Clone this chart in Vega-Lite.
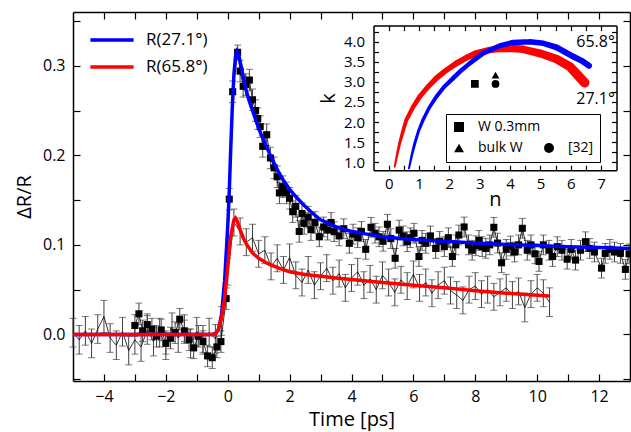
{
"$schema":"https://vega.github.io/schema/vega-lite/v6.json",
"width":557,"height":369,
"autosize":{"type":"none"},
"padding":{"left":73,"top":12,"right":1,"bottom":51},
"background":"white",
"config":{
 "font":"Open Sans",
 "view":{"stroke":null},
 "axis":{"grid":false,"domainColor":"black","domainWidth":1.5,"tickColor":"black","tickWidth":1.2,"labelColor":"black","titleColor":"black","labelFont":"Open Sans","titleFont":"Open Sans","titleFontWeight":"normal"},
 "legend":{"labelFont":"Open Sans","labelColor":"black"}
},
"datasets":{
 "s1":[
  {"t":-3.0,"v":0.010,"e":0.012},{"t":-2.87,"v":0.023,"e":0.012},{"t":-2.75,"v":0.004,"e":0.012},{"t":-2.6,"v":0.011,"e":0.012},{"t":-2.45,"v":0.006,"e":0.012},{"t":-2.3,"v":-0.002,"e":0.012},{"t":-2.15,"v":0.005,"e":0.012},{"t":-2.0,"v":-0.010,"e":0.012},{"t":-1.85,"v":-0.004,"e":0.012},{"t":-1.7,"v":0.002,"e":0.012},{"t":-1.55,"v":0.017,"e":0.012},{"t":-1.4,"v":0.004,"e":0.012},{"t":-1.25,"v":-0.006,"e":0.012},{"t":-1.1,"v":-0.015,"e":0.012},{"t":-0.95,"v":-0.002,"e":0.012},{"t":-0.8,"v":-0.008,"e":0.012},{"t":-0.65,"v":-0.024,"e":0.012},{"t":-0.5,"v":-0.026,"e":0.012},{"t":-0.35,"v":-0.014,"e":0.012},{"t":-0.22,"v":-0.008,"e":0.012},{"t":-0.05,"v":0.040,"e":0.012},
  {"t":0.05,"v":0.151,"e":0.012},{"t":0.16,"v":0.271,"e":0.012},{"t":0.32,"v":0.315,"e":0.008},{"t":0.4,"v":0.294,"e":0.012},{"t":0.5,"v":0.277,"e":0.012},{"t":0.58,"v":0.279,"e":0.012},{"t":0.7,"v":0.284,"e":0.012},{"t":0.8,"v":0.262,"e":0.012},{"t":0.9,"v":0.25,"e":0.012},{"t":0.97,"v":0.241,"e":0.012},{"t":1.05,"v":0.232,"e":0.012},{"t":1.13,"v":0.21,"e":0.012},{"t":1.26,"v":0.223,"e":0.012},{"t":1.38,"v":0.197,"e":0.012},{"t":1.5,"v":0.186,"e":0.012},{"t":1.6,"v":0.176,"e":0.012},{"t":1.67,"v":0.158,"e":0.012},{"t":1.78,"v":0.165,"e":0.012},{"t":1.9,"v":0.158,"e":0.012},{"t":2.0,"v":0.152,"e":0.012},{"t":2.1,"v":0.137,"e":0.012},{"t":2.2,"v":0.143,"e":0.012},{"t":2.31,"v":0.115,"e":0.012},{"t":2.4,"v":0.135,"e":0.012},{"t":2.47,"v":0.124,"e":0.012},{"t":2.6,"v":0.131,"e":0.012},{"t":2.69,"v":0.117,"e":0.012},{"t":2.82,"v":0.125,"e":0.012},{"t":2.96,"v":0.109,"e":0.011},
  {"t":3.1,"v":0.12,"e":0.011},{"t":3.23,"v":0.1165,"e":0.011},{"t":3.34,"v":0.125,"e":0.011},{"t":3.44,"v":0.1147,"e":0.011},{"t":3.6,"v":0.11,"e":0.011},{"t":3.75,"v":0.118,"e":0.011},{"t":3.93,"v":0.1017,"e":0.011},{"t":4.05,"v":0.112,"e":0.011},{"t":4.2,"v":0.108,"e":0.011},{"t":4.32,"v":0.115,"e":0.011},{"t":4.46,"v":0.095,"e":0.011},{"t":4.63,"v":0.1196,"e":0.011},{"t":4.76,"v":0.113,"e":0.011},{"t":4.89,"v":0.109,"e":0.011},{"t":5.02,"v":0.104,"e":0.011},{"t":5.16,"v":0.123,"e":0.011},{"t":5.27,"v":0.107,"e":0.011},{"t":5.41,"v":0.085,"e":0.011},{"t":5.54,"v":0.1165,"e":0.011},{"t":5.67,"v":0.11,"e":0.011},{"t":5.8,"v":0.1035,"e":0.011},{"t":5.9,"v":0.108,"e":0.011},{"t":6.02,"v":0.113,"e":0.011},{"t":6.18,"v":0.087,"e":0.011},{"t":6.28,"v":0.105,"e":0.011},{"t":6.4,"v":0.1017,"e":0.011},{"t":6.55,"v":0.11,"e":0.011},{"t":6.72,"v":0.096,"e":0.011},{"t":6.85,"v":0.104,"e":0.011},{"t":7.0,"v":0.098,"e":0.011},{"t":7.13,"v":0.108,"e":0.011},{"t":7.26,"v":0.087,"e":0.011},{"t":7.37,"v":0.1,"e":0.011},{"t":7.47,"v":0.111,"e":0.011},{"t":7.64,"v":0.12,"e":0.011},{"t":7.78,"v":0.1,"e":0.011},{"t":7.9,"v":0.094,"e":0.011},{"t":8.02,"v":0.099,"e":0.011},{"t":8.12,"v":0.105,"e":0.011},{"t":8.22,"v":0.098,"e":0.011},{"t":8.34,"v":0.096,"e":0.011},{"t":8.47,"v":0.1,"e":0.011},{"t":8.6,"v":0.1196,"e":0.011},{"t":8.72,"v":0.102,"e":0.011},{"t":8.85,"v":0.08,"e":0.011},{"t":9.0,"v":0.095,"e":0.011},{"t":9.14,"v":0.0987,"e":0.011},{"t":9.27,"v":0.092,"e":0.011},{"t":9.4,"v":0.1,"e":0.011},{"t":9.52,"v":0.1185,"e":0.011},{"t":9.68,"v":0.094,"e":0.011},{"t":9.8,"v":0.1,"e":0.011},{"t":9.93,"v":0.09,"e":0.011},{"t":10.06,"v":0.0815,"e":0.011},{"t":10.2,"v":0.1,"e":0.011},{"t":10.38,"v":0.094,"e":0.011},{"t":10.5,"v":0.087,"e":0.011},{"t":10.65,"v":0.098,"e":0.011},{"t":10.8,"v":0.094,"e":0.011},{"t":10.97,"v":0.084,"e":0.011},{"t":11.1,"v":0.095,"e":0.011},{"t":11.24,"v":0.083,"e":0.011},{"t":11.4,"v":0.094,"e":0.011},{"t":11.56,"v":0.1035,"e":0.011},{"t":11.7,"v":0.096,"e":0.011},{"t":11.85,"v":0.092,"e":0.011},{"t":12.08,"v":0.074,"e":0.011},{"t":12.2,"v":0.0905,"e":0.011},{"t":12.35,"v":0.095,"e":0.011},{"t":12.5,"v":0.092,"e":0.011},{"t":12.69,"v":0.0905,"e":0.011},{"t":12.85,"v":0.0726,"e":0.011},{"t":12.97,"v":0.09,"e":0.011}
 ],
 "s2":[
  {"t":-5.0,"v":0.002,"e":0.016},{"t":-4.8,"v":-0.006,"e":0.016},{"t":-4.6,"v":0.004,"e":0.016},{"t":-4.4,"v":-0.010,"e":0.016},{"t":-4.2,"v":0.006,"e":0.016},{"t":-4.0,"v":0.020,"e":0.018},{"t":-3.8,"v":-0.004,"e":0.016},{"t":-3.6,"v":-0.012,"e":0.016},{"t":-3.4,"v":0.003,"e":0.016},{"t":-3.2,"v":-0.018,"e":0.016},{"t":-3.0,"v":-0.006,"e":0.016},{"t":-2.8,"v":-0.014,"e":0.016},{"t":-2.6,"v":0.005,"e":0.016},{"t":-2.4,"v":-0.008,"e":0.016},{"t":-2.2,"v":0.002,"e":0.016},{"t":-2.0,"v":-0.012,"e":0.016},{"t":-1.8,"v":0.008,"e":0.016},{"t":-1.6,"v":-0.004,"e":0.016},{"t":-1.4,"v":0.006,"e":0.016},{"t":-1.2,"v":-0.010,"e":0.016},{"t":-1.0,"v":0.003,"e":0.016},{"t":-0.8,"v":-0.006,"e":0.016},{"t":-0.6,"v":0.002,"e":0.016},{"t":-0.4,"v":-0.005,"e":0.016},{"t":-0.2,"v":0.015,"e":0.016},{"t":0.0,"v":0.07,"e":0.015},{"t":0.2,"v":0.125,"e":0.015},{"t":0.4,"v":0.115,"e":0.015},{"t":0.6,"v":0.103,"e":0.015},{"t":0.8,"v":0.108,"e":0.015},{"t":1.0,"v":0.090,"e":0.015},{"t":1.2,"v":0.094,"e":0.015},{"t":1.4,"v":0.076,"e":0.015},{"t":1.6,"v":0.085,"e":0.015},{"t":1.8,"v":0.072,"e":0.015},{"t":2.0,"v":0.086,"e":0.015},{"t":2.2,"v":0.066,"e":0.015},{"t":2.4,"v":0.058,"e":0.015},{"t":2.6,"v":0.072,"e":0.015},{"t":2.8,"v":0.055,"e":0.015},{"t":3.0,"v":0.065,"e":0.015},{"t":3.2,"v":0.074,"e":0.015},{"t":3.4,"v":0.060,"e":0.015},{"t":3.6,"v":0.068,"e":0.015},{"t":3.8,"v":0.052,"e":0.015},{"t":4.0,"v":0.063,"e":0.015},{"t":4.2,"v":0.070,"e":0.015},{"t":4.4,"v":0.055,"e":0.015},{"t":4.6,"v":0.062,"e":0.015},{"t":4.8,"v":0.050,"e":0.015},{"t":5.0,"v":0.066,"e":0.015},{"t":5.2,"v":0.058,"e":0.015},{"t":5.4,"v":0.047,"e":0.015},{"t":5.6,"v":0.061,"e":0.015},{"t":5.8,"v":0.054,"e":0.015},{"t":6.0,"v":0.067,"e":0.015},{"t":6.2,"v":0.052,"e":0.015},{"t":6.4,"v":0.058,"e":0.015},{"t":6.6,"v":0.046,"e":0.015},{"t":6.8,"v":0.055,"e":0.015},{"t":7.0,"v":0.060,"e":0.015},{"t":7.2,"v":0.049,"e":0.015},{"t":7.4,"v":0.044,"e":0.015},{"t":7.6,"v":0.038,"e":0.015},{"t":7.8,"v":0.050,"e":0.015},{"t":8.0,"v":0.054,"e":0.015},{"t":8.2,"v":0.045,"e":0.015},{"t":8.4,"v":0.050,"e":0.015},{"t":8.6,"v":0.042,"e":0.015},{"t":8.8,"v":0.047,"e":0.015},{"t":9.0,"v":0.052,"e":0.015},{"t":9.2,"v":0.044,"e":0.015},{"t":9.4,"v":0.048,"e":0.015},{"t":9.6,"v":0.030,"e":0.016},{"t":9.8,"v":0.045,"e":0.015},{"t":10.0,"v":0.052,"e":0.015},{"t":10.2,"v":0.046,"e":0.015},{"t":10.4,"v":0.036,"e":0.016}
 ],
 "fitB":[
  {"t":-5,"v":0,"s":"R(27.1°)"},{"t":-0.5,"v":0,"s":"R(27.1°)"},{"t":-0.4,"v":0.001,"s":"R(27.1°)"},{"t":-0.3,"v":0.005,"s":"R(27.1°)"},{"t":-0.2,"v":0.022,"s":"R(27.1°)"},{"t":-0.1,"v":0.06,"s":"R(27.1°)"},{"t":0,"v":0.12,"s":"R(27.1°)"},{"t":0.05,"v":0.16,"s":"R(27.1°)"},{"t":0.1,"v":0.21,"s":"R(27.1°)"},{"t":0.15,"v":0.255,"s":"R(27.1°)"},{"t":0.2,"v":0.29,"s":"R(27.1°)"},{"t":0.25,"v":0.31,"s":"R(27.1°)"},{"t":0.3,"v":0.316,"s":"R(27.1°)"},{"t":0.35,"v":0.313,"s":"R(27.1°)"},{"t":0.4,"v":0.305,"s":"R(27.1°)"},{"t":0.5,"v":0.288,"s":"R(27.1°)"},{"t":0.6,"v":0.272,"s":"R(27.1°)"},{"t":0.7,"v":0.26,"s":"R(27.1°)"},{"t":0.8,"v":0.25,"s":"R(27.1°)"},{"t":0.9,"v":0.24,"s":"R(27.1°)"},{"t":1.0,"v":0.23,"s":"R(27.1°)"},{"t":1.1,"v":0.222,"s":"R(27.1°)"},{"t":1.25,"v":0.21,"s":"R(27.1°)"},{"t":1.4,"v":0.198,"s":"R(27.1°)"},{"t":1.6,"v":0.184,"s":"R(27.1°)"},{"t":1.8,"v":0.172,"s":"R(27.1°)"},{"t":2.0,"v":0.162,"s":"R(27.1°)"},{"t":2.25,"v":0.152,"s":"R(27.1°)"},{"t":2.5,"v":0.143,"s":"R(27.1°)"},{"t":2.75,"v":0.135,"s":"R(27.1°)"},{"t":3.0,"v":0.128,"s":"R(27.1°)"},{"t":3.5,"v":0.12,"s":"R(27.1°)"},{"t":4.0,"v":0.115,"s":"R(27.1°)"},{"t":4.5,"v":0.112,"s":"R(27.1°)"},{"t":5.0,"v":0.109,"s":"R(27.1°)"},{"t":5.5,"v":0.1075,"s":"R(27.1°)"},{"t":6.0,"v":0.106,"s":"R(27.1°)"},{"t":6.5,"v":0.105,"s":"R(27.1°)"},{"t":7.0,"v":0.104,"s":"R(27.1°)"},{"t":8.0,"v":0.102,"s":"R(27.1°)"},{"t":9.0,"v":0.1005,"s":"R(27.1°)"},{"t":10.0,"v":0.0993,"s":"R(27.1°)"},{"t":11.0,"v":0.098,"s":"R(27.1°)"},{"t":12.0,"v":0.097,"s":"R(27.1°)"},{"t":13.0,"v":0.096,"s":"R(27.1°)"}
 ],
 "fitR":[
  {"t":-5,"v":0,"s":"R(65.8°)"},{"t":-0.4,"v":0,"s":"R(65.8°)"},{"t":-0.3,"v":0.006,"s":"R(65.8°)"},{"t":-0.2,"v":0.018,"s":"R(65.8°)"},{"t":-0.1,"v":0.04,"s":"R(65.8°)"},{"t":0,"v":0.075,"s":"R(65.8°)"},{"t":0.1,"v":0.11,"s":"R(65.8°)"},{"t":0.2,"v":0.128,"s":"R(65.8°)"},{"t":0.25,"v":0.13,"s":"R(65.8°)"},{"t":0.3,"v":0.127,"s":"R(65.8°)"},{"t":0.4,"v":0.117,"s":"R(65.8°)"},{"t":0.5,"v":0.108,"s":"R(65.8°)"},{"t":0.6,"v":0.101,"s":"R(65.8°)"},{"t":0.8,"v":0.091,"s":"R(65.8°)"},{"t":1.0,"v":0.085,"s":"R(65.8°)"},{"t":1.3,"v":0.079,"s":"R(65.8°)"},{"t":1.67,"v":0.0737,"s":"R(65.8°)"},{"t":2.0,"v":0.07,"s":"R(65.8°)"},{"t":2.5,"v":0.067,"s":"R(65.8°)"},{"t":3.0,"v":0.065,"s":"R(65.8°)"},{"t":3.5,"v":0.063,"s":"R(65.8°)"},{"t":4.0,"v":0.0614,"s":"R(65.8°)"},{"t":5.0,"v":0.058,"s":"R(65.8°)"},{"t":6.0,"v":0.055,"s":"R(65.8°)"},{"t":7.0,"v":0.052,"s":"R(65.8°)"},{"t":8.0,"v":0.0487,"s":"R(65.8°)"},{"t":9.0,"v":0.046,"s":"R(65.8°)"},{"t":10.0,"v":0.0437,"s":"R(65.8°)"},{"t":10.4,"v":0.0428,"s":"R(65.8°)"}
 ],
 "bandR":[
  {"n":0.20,"k":0.89,"w":2},{"n":0.28,"k":1.2,"w":2.5},{"n":0.36,"k":1.47,"w":3},{"n":0.47,"k":1.77,"w":3.5},{"n":0.58,"k":2.05,"w":4},{"n":0.8,"k":2.37,"w":4.5},{"n":1.02,"k":2.63,"w":5},{"n":1.3,"k":2.88,"w":5},{"n":1.57,"k":3.09,"w":5.5},{"n":1.9,"k":3.29,"w":5.5},{"n":2.23,"k":3.46,"w":6},{"n":2.56,"k":3.6,"w":6},{"n":2.89,"k":3.71,"w":6.5},{"n":3.3,"k":3.79,"w":6.5},{"n":3.7,"k":3.83,"w":7},{"n":4.1,"k":3.83,"w":7.5},{"n":4.43,"k":3.81,"w":7.5},{"n":4.98,"k":3.71,"w":8},{"n":5.53,"k":3.57,"w":8.5},{"n":5.97,"k":3.38,"w":9},{"n":6.3,"k":3.11,"w":9.5},{"n":6.46,"k":2.98,"w":9.5}
 ],
 "bandB":[
  {"n":0.67,"k":0.85,"w":2},{"n":0.76,"k":1.17,"w":2.5},{"n":0.86,"k":1.47,"w":3},{"n":0.98,"k":1.77,"w":3},{"n":1.13,"k":2.05,"w":3.5},{"n":1.33,"k":2.35,"w":3.5},{"n":1.57,"k":2.63,"w":4},{"n":1.83,"k":2.88,"w":4},{"n":2.12,"k":3.09,"w":4.5},{"n":2.4,"k":3.29,"w":4.5},{"n":2.67,"k":3.46,"w":4.5},{"n":3.11,"k":3.71,"w":5},{"n":3.66,"k":3.9,"w":5},{"n":4.1,"k":3.98,"w":5.5},{"n":4.65,"k":4.0,"w":5.5},{"n":5.1,"k":3.96,"w":5.5},{"n":5.53,"k":3.86,"w":6},{"n":6.08,"k":3.63,"w":6},{"n":6.35,"k":3.53,"w":6},{"n":6.6,"k":3.4,"w":6}
 ],
 "pts":[{"n":2.84,"k":2.95,"src":"W 0.3mm"},{"n":3.52,"k":3.17,"src":"bulk W"},{"n":3.52,"k":2.95,"src":"[32]"}],
 "lbl":[{"n":7.45,"k":4.0,"label":"65.8°"},{"n":7.45,"k":2.58,"label":"27.1°"}]
},
"layer":[
 {
  "layer":[
   {"data":{"name":"s2"},"mark":{"type":"errorbar","ticks":{"size":7},"color":"#404040","thickness":1},
    "encoding":{
     "x":{"field":"t","type":"quantitative","scale":{"domain":[-5,13],"nice":false,"zero":false},"axis":{"orient":"top","values":[-4,-3,-2,-1,0,1,2,3,4,5,6,7,8,9,10,11,12],"labels":false,"tickSize":-7,"title":null}},
     "y":{"field":"v","type":"quantitative","scale":{"domain":[-0.052,0.36],"nice":false,"zero":false},"axis":{"orient":"right","values":[-0.05,0,0.05,0.1,0.15,0.2,0.25,0.3,0.35],"labels":false,"tickSize":-7,"title":null}},
     "yError":{"field":"e"}}},
   {"data":{"name":"s2"},"mark":{"type":"line","color":"black","strokeWidth":0.8},
    "encoding":{"x":{"field":"t","type":"quantitative","axis":null},"y":{"field":"v","type":"quantitative","axis":null}}},
   {"data":{"name":"s1"},"mark":{"type":"errorbar","ticks":{"size":7},"color":"#404040","thickness":1},
    "encoding":{"x":{"field":"t","type":"quantitative","axis":null},"y":{"field":"v","type":"quantitative","axis":null},"yError":{"field":"e"}}},
   {"data":{"name":"s1"},"mark":{"type":"line","color":"black","strokeWidth":0.8},
    "encoding":{"x":{"field":"t","type":"quantitative","axis":null},"y":{"field":"v","type":"quantitative","axis":null}}},
   {"data":{"name":"s1"},"mark":{"type":"point","shape":"square","filled":true,"color":"black","size":50,"opacity":1},
    "encoding":{"x":{"field":"t","type":"quantitative","axis":null},"y":{"field":"v","type":"quantitative","axis":null}}},
   {"data":{"name":"fitB"},"mark":{"type":"line","strokeWidth":3.5},
    "encoding":{
     "x":{"field":"t","type":"quantitative","axis":{"orient":"bottom","values":[-4,-3,-2,-1,0,1,2,3,4,5,6,7,8,9,10,11,12],"labelExpr":"datum.value % 2 == 0 ? datum.label : ''","tickSize":-7,"labelFontSize":16,"labelPadding":14,"title":"Time [ps]","titleFontSize":20,"titlePadding":5}},
     "y":{"field":"v","type":"quantitative","axis":{"orient":"left","values":[-0.05,0,0.05,0.1,0.15,0.2,0.25,0.3,0.35],"labelExpr":"abs(datum.value*10 - round(datum.value*10)) < 0.001 ? format(datum.value, '.1f') : ''","tickSize":-7,"labelFontSize":16,"labelPadding":15,"title":"ΔR/R","titleFontSize":20,"titlePadding":8}},
     "color":{"field":"s","type":"nominal","scale":{"domain":["R(27.1°)","R(65.8°)"],"range":["#0000ff","#ff0000"]},
      "legend":{"orient":"none","legendX":29,"legendY":18,"title":null,"symbolType":"M-2.7,0L2.7,0","symbolSize":256,"symbolStrokeWidth":3.5,"labelFontSize":17,"labelOffset":24,"rowPadding":9}}}},
   {"data":{"name":"fitR"},"mark":{"type":"line","strokeWidth":3.5},
    "encoding":{"x":{"field":"t","type":"quantitative","axis":null},"y":{"field":"v","type":"quantitative","axis":null},"color":{"field":"s","type":"nominal"}}}
  ],
  "resolve":{"axis":{"x":"independent","y":"independent"}}
 },
 {
  "layer":[
   {"data":{"name":"bandR"},"mark":{"type":"trail","color":"#ff0000"},
    "encoding":{
     "x":{"field":"n","type":"quantitative","scale":{"domain":[-0.5,7.5],"range":[300.5,543.3],"nice":false,"zero":false},"axis":{"orient":"bottom","offset":-210.7,"values":[0,0.5,1,1.5,2,2.5,3,3.5,4,4.5,5,5.5,6,6.5,7],"labelExpr":"datum.value % 1 == 0 ? format(datum.value, 'd') : ''","tickSize":-5,"labelFontSize":15,"labelPadding":11,"title":"n","titleFontSize":20,"titlePadding":-2}},
     "y":{"field":"k","type":"quantitative","scale":{"domain":[0.8,4.4],"range":[158.3,13.6],"nice":false,"zero":false},"axis":{"orient":"left","offset":-300.5,"values":[1,1.25,1.5,1.75,2,2.25,2.5,2.75,3,3.25,3.5,3.75,4,4.25],"labelExpr":"(datum.value*2) % 1 == 0 ? format(datum.value, '.1f') : ''","tickSize":-5,"labelFontSize":15,"labelPadding":14,"title":"k","titleFontSize":20,"titlePadding":5}},
     "size":{"field":"w","type":"quantitative","scale":null}}},
   {"data":{"name":"bandB"},"mark":{"type":"trail","color":"#0000ff"},
    "encoding":{
     "x":{"field":"n","type":"quantitative","axis":{"orient":"top","offset":-13.6,"values":[0,0.5,1,1.5,2,2.5,3,3.5,4,4.5,5,5.5,6,6.5,7],"labels":false,"tickSize":-5,"title":null}},
     "y":{"field":"k","type":"quantitative","axis":{"orient":"right","offset":-13.5,"values":[1,1.25,1.5,1.75,2,2.25,2.5,2.75,3,3.25,3.5,3.75,4,4.25],"labels":false,"tickSize":-5,"title":null}},
     "size":{"field":"w","type":"quantitative","scale":null}}},
   {"data":{"name":"pts"},"mark":{"type":"point","filled":true,"color":"black","size":60,"opacity":1},
    "encoding":{
     "x":{"field":"n","type":"quantitative","axis":null},
     "y":{"field":"k","type":"quantitative","axis":null},
     "shape":{"field":"src","type":"nominal","scale":{"domain":["W 0.3mm","bulk W","blank","[32]"],"range":["square","triangle-up","M0,0","circle"]},
      "legend":{"orient":"none","legendX":373,"legendY":102,"title":null,"columns":2,"symbolSize":100,"symbolFillColor":"black","symbolStrokeColor":"black","symbolOpacity":1,"labelFontSize":14,"labelOffset":12,"rowPadding":5,"columnPadding":0,"padding":6,"strokeColor":"black","labelExpr":"datum.label == 'blank' ? '' : datum.label"}}}},
   {"data":{"name":"lbl"},"mark":{"type":"text","align":"right","baseline":"middle","fontSize":16,"color":"black"},
    "encoding":{"x":{"field":"n","type":"quantitative","axis":null},"y":{"field":"k","type":"quantitative","axis":null},"text":{"field":"label"}}}
  ],
  "resolve":{"axis":{"x":"independent","y":"independent"}}
 }
],
"resolve":{"scale":{"x":"independent","y":"independent"},"axis":{"x":"independent","y":"independent"}}
}
